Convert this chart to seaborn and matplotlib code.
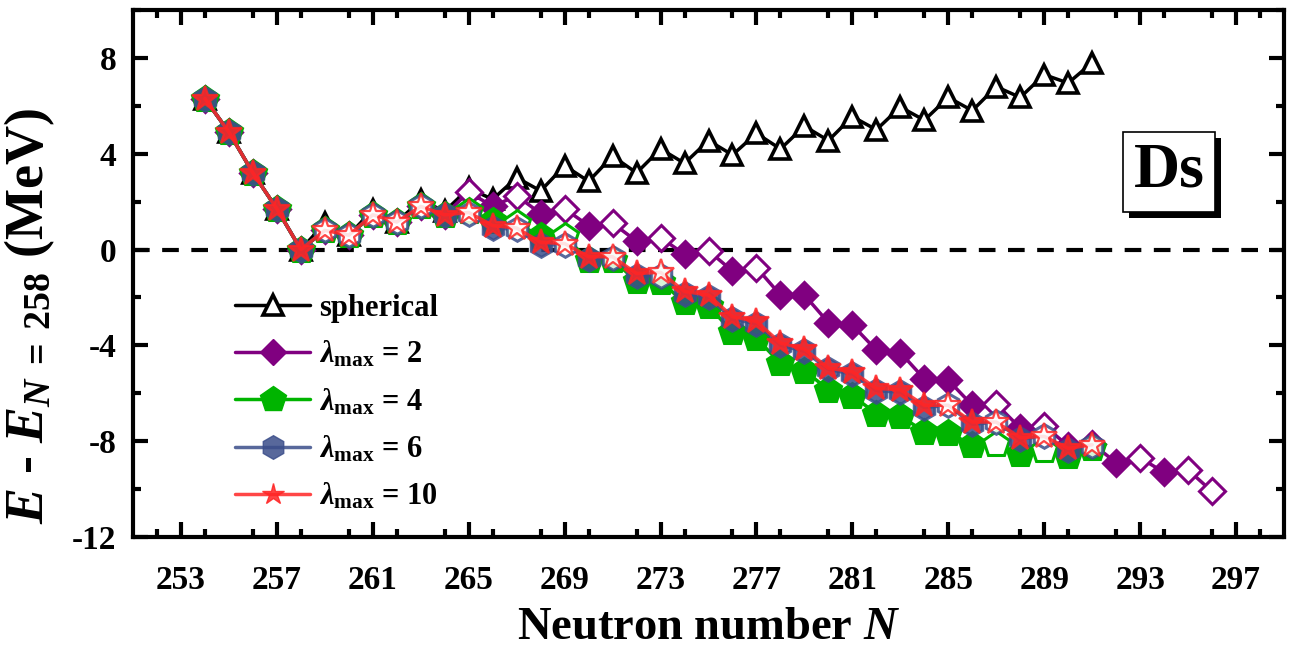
import matplotlib
matplotlib.use("Agg")
import matplotlib.pyplot as plt
import pandas as pd
import seaborn as sns
from matplotlib.lines import Line2D
from matplotlib.ticker import MultipleLocator
from matplotlib import patheffects

# ---- data ----
N_sph = list(range(254, 292))
E_sph = [6.3, 4.9, 3.2, 1.7, 0.0, 1.1, 0.6, 1.65, 1.15, 2.05, 1.6,
         2.55, 2.1, 3.0, 2.45, 3.5, 2.85, 3.9, 3.2, 4.2, 3.6, 4.55, 3.95,
         4.85, 4.2, 5.15, 4.55, 5.55, 5.0, 5.95, 5.4, 6.35, 5.8, 6.8, 6.35,
         7.3, 6.95, 7.8]

N_l2 = list(range(254, 297))
E_l2 = [6.3, 4.9, 3.2, 1.7, 0.0, 0.8, 0.6, 1.45, 1.15, 1.8, 1.45,
        2.4, 1.8, 2.25, 1.5, 1.7, 1.0, 1.1, 0.35, 0.5, -0.2, -0.05, -0.9,
        -0.75, -1.9, -1.9, -3.05, -3.15, -4.2, -4.3, -5.4, -5.45, -6.5,
        -6.45, -7.45, -7.35, -8.2, -8.1, -8.9, -8.7, -9.3, -9.2, -10.1]
open_l2 = [259, 260, 261, 262, 263, 265, 267, 269, 271, 273, 275, 277,
           287, 289, 291, 293, 295, 296]

N_l4 = list(range(254, 292))
E_l4 = [6.3, 4.9, 3.2, 1.7, 0.0, 0.8, 0.6, 1.45, 1.15, 1.8, 1.45,
        1.6, 1.2, 1.1, 0.55, 0.55, -0.45, -0.45, -1.3, -1.35, -2.2, -2.35,
        -3.45, -3.7, -4.75, -5.05, -5.85, -6.1, -6.85, -6.95, -7.6, -7.65,
        -8.15, -8.1, -8.55, -8.35, -8.6, -8.3]
open_l4 = [259, 260, 261, 262, 263, 265, 267, 269, 287, 289]

N_l6 = list(range(254, 292))
E_l6 = [6.3, 4.9, 3.2, 1.7, 0.0, 0.8, 0.6, 1.45, 1.15, 1.8, 1.45,
        1.5, 0.9, 0.85, 0.2, 0.2, -0.4, -0.35, -1.1, -1.1, -1.85, -2.0,
        -2.9, -3.1, -4.0, -4.25, -5.0, -5.2, -5.9, -5.95, -6.6, -6.5,
        -7.3, -7.2, -7.9, -7.8, -8.35, -8.2]
open_l6 = [259, 260, 261, 262, 263, 265, 267, 269, 271, 273, 285, 287,
           289, 291]

N_l10 = list(range(254, 292))
E_l10 = [6.3, 4.9, 3.2, 1.7, 0.0, 0.8, 0.6, 1.45, 1.15, 1.8, 1.45,
         1.55, 1.0, 0.9, 0.3, 0.25, -0.3, -0.3, -1.0, -0.95, -1.75, -1.9,
         -2.8, -3.0, -3.9, -4.15, -4.95, -5.1, -5.8, -5.85, -6.5, -6.5,
         -7.2, -7.2, -7.85, -7.8, -8.3, -8.15]
open_l10 = [259, 260, 261, 262, 263, 265, 267, 269, 271, 273, 285, 287,
            289, 291]

x_ticks = list(range(253, 298, 4))
y_ticks = [-12, -8, -4, 0, 4, 8]

# ---- style ----
sns.set_style("ticks")
plt.rcParams["font.family"] = ["Liberation Serif", "DejaVu Serif"]
plt.rcParams["font.weight"] = "bold"
plt.rcParams["axes.labelweight"] = "bold"
plt.rcParams["axes.edgecolor"] = "black"
plt.rcParams["axes.labelcolor"] = "black"
plt.rcParams["xtick.color"] = "black"
plt.rcParams["ytick.color"] = "black"
plt.rcParams["text.color"] = "black"
plt.rcParams["axes.unicode_minus"] = False
plt.rcParams["mathtext.fontset"] = "custom"
plt.rcParams["mathtext.rm"] = "Liberation Serif:bold"
plt.rcParams["mathtext.bf"] = "Liberation Serif:bold"
plt.rcParams["mathtext.it"] = "Liberation Serif:italic:bold"
plt.rcParams["mathtext.default"] = "it"

fig = plt.figure(figsize=(12.94, 6.54), dpi=100)
ax = fig.add_axes([133 / 1294, 1 - 537 / 654, 1151 / 1294, 527 / 654])

ax.axhline(0, color="black", lw=3, ls=(0, (4, 3)), zorder=1)


def draw(N, E, open_N, color, marker, ms, alpha=1.0, z=2, mew=2.2):
    df = pd.DataFrame({"N": N, "E": E})
    sns.lineplot(data=df, x="N", y="E", color=color, lw=2.5, alpha=alpha,
                 ax=ax, zorder=z, estimator=None, sort=False)
    full = df[~df.N.isin(open_N)]
    hollow = df[df.N.isin(open_N)]
    ax.plot(full.N, full.E, ls="none", marker=marker, ms=ms, mfc=color,
            mec=color, mew=mew, alpha=alpha, zorder=z)
    ax.plot(hollow.N, hollow.E, ls="none", marker=marker, ms=ms, mfc="white",
            mec=color, mew=mew, alpha=alpha, zorder=z)


c_sph, c2, c4, c6, c10 = "black", "#800080", "#00B400", "#3B4E8A", "#FF2525"

draw(N_sph, E_sph, N_sph, c_sph, "^", 15, z=2, mew=2.6)
draw(N_l2, E_l2, open_l2, c2, "D", 13, z=3)
draw(N_l4, E_l4, open_l4, c4, "p", 19, z=4)
draw(N_l6, E_l6, open_l6, c6, "h", 17, alpha=0.85, z=5)
draw(N_l10, E_l10, open_l10, c10, "*", 19, alpha=0.85, z=6, mew=1.6)

ax.set_xlim(251, 299)
ax.set_ylim(-12, 10)
ax.set_xticks(x_ticks)
ax.set_yticks(y_ticks)
ax.xaxis.set_minor_locator(MultipleLocator(2))
ax.yaxis.set_minor_locator(MultipleLocator(2))
ax.tick_params(which="both", direction="in", top=True, right=True, width=3,
               labelsize=24)
ax.tick_params(axis="x", which="major", length=11, pad=20)
ax.tick_params(axis="y", which="major", length=11, pad=12)
ax.tick_params(which="minor", length=6)
for s in ax.spines.values():
    s.set_linewidth(3)

ax.set_xlabel("Neutron number $N$", fontsize=33.5, fontweight="bold",
              labelpad=8)
ax.set_ylabel(r"$E$ - $E_{N\;=\;258}$ (MeV)", fontsize=39, fontweight="bold")
ax.yaxis.set_label_coords(-0.066, 0.42)

# legend
handles = [
    Line2D([], [], color=c_sph, lw=2.5, marker="^", ms=15, mfc="white", mew=2.6),
    Line2D([], [], color=c2, lw=2.5, marker="D", ms=13),
    Line2D([], [], color=c4, lw=2.5, marker="p", ms=19),
    Line2D([], [], color=c6, lw=2.5, marker="h", ms=17, alpha=0.85),
    Line2D([], [], color=c10, lw=2.5, marker="*", ms=16, alpha=0.85),
]
labels = ["spherical", r"$\lambda_{\rm max}$ = 2", r"$\lambda_{\rm max}$ = 4",
          r"$\lambda_{\rm max}$ = 6", r"$\lambda_{\rm max}$ = 10"]
ax.legend(handles, labels, loc="upper left", bbox_to_anchor=(0.089, 0.462),
          frameon=False, fontsize=22, handlelength=2.45, labelspacing=0.55,
          borderpad=0, borderaxespad=0, handletextpad=0.3)

# element box with drop shadow
t = ax.text(0.9, 0.693, "Ds", transform=ax.transAxes, fontsize=46,
            ha="center", va="center", zorder=8,
            bbox=dict(boxstyle="square,pad=0.17", fc="white", ec="black",
                      lw=1.2))
t.get_bbox_patch().set_path_effects([
    patheffects.SimplePatchShadow(offset=(4.5, -4.5), shadow_rgbFace="black",
                                  alpha=1.0),
    patheffects.Normal(),
])

fig.savefig("out.png", dpi=100)
